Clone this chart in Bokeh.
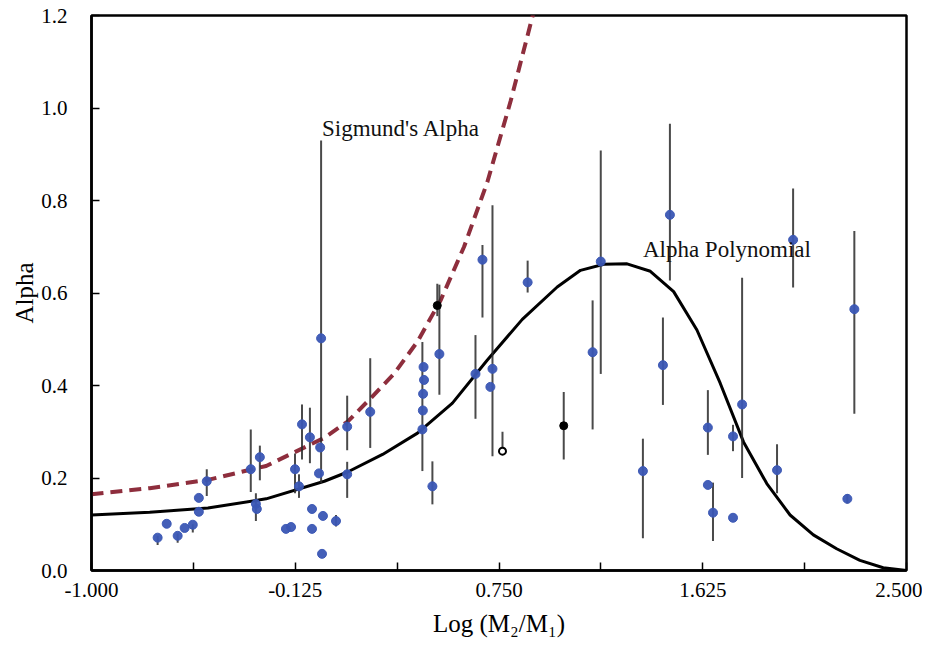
from bokeh.plotting import figure
from bokeh.models import Range1d, FixedTicker, PrintfTickFormatter, Label
from bokeh.embed import file_html
from bokeh.resources import INLINE

# ---- data ----
x_ticks = [-1.0, -0.125, 0.75, 1.625, 2.5]
x_minor = [-0.5625, 0.3125, 1.1875, 2.0625]
y_ticks = [0.0, 0.2, 0.4, 0.6, 0.8, 1.0, 1.2]

# Alpha polynomial (solid black curve)
poly_x = [-1.0, -0.75, -0.5, -0.25, 0.0, 0.1, 0.25, 0.4, 0.55, 0.7, 0.85, 1.0, 1.1, 1.2, 1.3,
          1.4, 1.5, 1.6, 1.7, 1.8, 1.9, 2.0, 2.1, 2.2, 2.3, 2.4, 2.5]
poly_y = [0.120, 0.126, 0.135, 0.155, 0.193, 0.213, 0.251, 0.297, 0.362, 0.455, 0.543, 0.613, 0.649,
          0.662, 0.663, 0.647, 0.603, 0.520, 0.405, 0.278, 0.188, 0.120, 0.077, 0.047, 0.022, 0.006, 0.0]

# Sigmund's alpha (dashed curve)
sig_x = [-1.0, -0.75, -0.5, -0.25, 0.0, 0.1, 0.2, 0.3, 0.4, 0.5, 0.6, 0.7, 0.8, 0.9]
sig_y = [0.165, 0.178, 0.196, 0.226, 0.287, 0.322, 0.373, 0.426, 0.495, 0.585, 0.700, 0.840, 1.015, 1.21]

# blue data points
pt_x = [-0.716, -0.677, -0.630, -0.600, -0.565, -0.539, -0.539, -0.505, -0.316, -0.294, -0.290, -0.277,
        -0.165, -0.143, -0.126, -0.109, -0.096, -0.062, -0.053, -0.053, -0.014, -0.018, -0.023, -0.006,
        -0.010, 0.050, 0.098, 0.098, 0.197, 0.426, 0.428, 0.424, 0.423, 0.421, 0.464, 0.494, 0.649,
        0.679, 0.722, 0.713, 0.873, 1.152, 1.187, 1.368, 1.454, 1.484, 1.647, 1.647, 1.669, 1.755,
        1.794, 1.755, 1.944, 2.013, 2.276, 2.246]
pt_y = [0.071, 0.101, 0.075, 0.092, 0.099, 0.127, 0.157, 0.193, 0.219, 0.144, 0.133, 0.245,
        0.090, 0.094, 0.219, 0.182, 0.316, 0.288, 0.090, 0.133, 0.502, 0.266, 0.210, 0.118,
        0.036, 0.107, 0.311, 0.208, 0.343, 0.440, 0.412, 0.382, 0.346, 0.305, 0.182, 0.468, 0.425,
        0.672, 0.436, 0.397, 0.623, 0.472, 0.668, 0.215, 0.444, 0.769, 0.309, 0.185, 0.125, 0.290,
        0.359, 0.114, 0.217, 0.715, 0.565, 0.155]

# black data points
bk_x = [0.485, 1.028]
bk_y = [0.573, 0.313]
open_x = [0.765]
open_y = [0.258]

# error bars
err_x = [-0.716, -0.630, -0.565, -0.505, -0.316, -0.294, -0.277, -0.126, -0.109, -0.096, -0.062,
         -0.014, 0.050, 0.098, 0.098, 0.197, 0.421, 0.464, 0.494, 0.649, 0.679, 0.722, 0.873,
         1.152, 1.187, 1.368, 1.454, 1.484, 1.647, 1.669, 1.755, 1.794, 1.944, 2.013, 2.276, 2.246,
         0.485, 0.765, 1.028]
err_lo = [0.055, 0.060, 0.082, 0.161, 0.170, 0.107, 0.195, 0.167, 0.157, 0.240, 0.232,
          0.189, 0.095, 0.260, 0.157, 0.265, 0.215, 0.143, 0.380, 0.328, 0.547, 0.247, 0.601,
          0.305, 0.425, 0.070, 0.358, 0.627, 0.250, 0.064, 0.258, 0.200, 0.167, 0.612, 0.339, 0.145,
          0.550, 0.258, 0.240]
err_hi = [0.075, 0.080, 0.100, 0.219, 0.305, 0.167, 0.270, 0.253, 0.208, 0.359, 0.352,
          0.930, 0.120, 0.378, 0.235, 0.459, 0.494, 0.236, 0.618, 0.509, 0.704, 0.790, 0.670,
          0.584, 0.908, 0.285, 0.547, 0.966, 0.390, 0.190, 0.315, 0.633, 0.273, 0.826, 0.734, 0.165,
          0.620, 0.300, 0.386]

SERIF = "Liberation Serif"

p = figure(width=922, height=639, x_range=Range1d(-1.0, 2.5), y_range=Range1d(0.0, 1.2),
           output_backend="svg", toolbar_location=None,
           min_border_left=91, min_border_right=16, min_border_top=15, min_border_bottom=10)
p.grid.visible = False
p.outline_line_color = "black"
p.outline_line_width = 2.5
p.background_fill_color = "white"

xax = p.xaxis[0]
yax = p.yaxis[0]

# curves
p.line(sig_x, sig_y, line_color="#8e2e3d", line_width=4, line_dash="12 7")
p.line(poly_x, poly_y, line_color="black", line_width=3)

# error bars
p.segment(x0=err_x, y0=err_lo, x1=err_x, y1=err_hi, line_color="#2a2a2a", line_width=2, line_alpha=0.85)

# points
p.scatter(pt_x, pt_y, marker="circle", size=9, fill_color="#3a56b4", line_color="#3a56b4", alpha=0.95)
p.scatter(bk_x, bk_y, marker="circle", size=8, fill_color="black", line_color="black")
p.scatter(open_x, open_y, marker="circle", size=7, fill_color="white", line_color="black", line_width=2)

# axes
xax.ticker = FixedTicker(ticks=x_ticks, minor_ticks=x_minor)
xax.formatter = PrintfTickFormatter(format="%.3f")
yax.ticker = FixedTicker(ticks=y_ticks)
yax.formatter = PrintfTickFormatter(format="%.1f")

for ax in (xax, yax):
    ax.axis_line_color = "black"
    ax.axis_line_width = 2.5
    ax.major_tick_in = 8
    ax.major_tick_out = 0
    ax.minor_tick_in = 8
    ax.minor_tick_out = 0
    ax.major_tick_line_width = 1.5
    ax.minor_tick_line_width = 1.5
    ax.major_tick_line_color = "black"
    ax.minor_tick_line_color = "black"
    ax.major_label_text_font = SERIF
    ax.major_label_text_font_size = "21px"
    ax.major_label_text_color = "black"
    ax.axis_label_text_font = SERIF
    ax.axis_label_text_font_size = "25px"
    ax.axis_label_text_font_style = "normal"
    ax.axis_label_text_color = "black"

xax.axis_label = "Log (M\u2082/M\u2081)"
xax.major_label_standoff = 12
xax.axis_label_standoff = 10
yax.axis_label = "Alpha"
yax.major_label_standoff = 24
yax.axis_label_standoff = 0

p.add_layout(Label(x=-0.01, y=0.955, text="Sigmund's Alpha", text_font=SERIF,
                   text_font_size="23px", text_baseline="middle", text_color="#111111"))
p.add_layout(Label(x=1.368, y=0.693, text="Alpha Polynomial", text_font=SERIF,
                   text_font_size="23px", text_baseline="middle", text_color="#111111"))

open("out.html", "w").write(file_html(p, INLINE))
